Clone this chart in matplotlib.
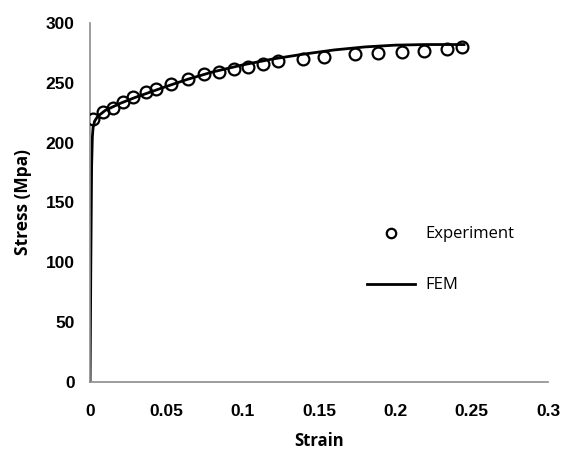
import matplotlib
matplotlib.use("Agg")
import matplotlib.pyplot as plt

# experiment points (strain, stress in MPa)
exp_strain = [0.0022, 0.0087, 0.0153, 0.0214, 0.0284, 0.0365, 0.0432, 0.0528,
              0.064, 0.0747, 0.0847, 0.0945, 0.1037, 0.1135, 0.1233, 0.1393,
              0.1534, 0.1735, 0.1884, 0.2045, 0.2189, 0.2336, 0.2434]
exp_stress = [219.7, 225.8, 229.2, 233.7, 238.3, 242.5, 244.8, 248.7,
              253.1, 257.1, 259.0, 261.2, 263.4, 265.7, 268.2, 269.8,
              271.8, 274.3, 274.6, 276.0, 276.8, 278.2, 279.6]

# FEM curve
fem_strain = [0, 0.0005, 0.001, 0.0015, 0.002, 0.003, 0.005, 0.01, 0.02, 0.03,
              0.05, 0.064, 0.08, 0.1, 0.12, 0.14, 0.16, 0.18, 0.2, 0.22, 0.245]
fem_stress = [0, 100, 180, 205, 213, 218, 222, 227, 233, 238,
              247, 253, 259, 265, 270, 274, 277.5, 280, 281.5, 282, 282]

xticks = [0, 0.05, 0.1, 0.15, 0.2, 0.25, 0.3]
yticks = [0, 50, 100, 150, 200, 250, 300]

fig = plt.figure(figsize=(5.63, 4.51), dpi=100)
ax = fig.add_axes([0.16, 0.153, 0.8134, 0.796])

ax.plot(exp_strain, exp_stress, 'o', ms=8.5, mfc='none', mec='black', mew=1.6,
        label='Experiment', zorder=3)
ax.plot(fem_strain, fem_stress, '-', color='black', lw=2, label='FEM', zorder=2)

ax.set_xlim(0, 0.3)
ax.set_ylim(0, 300)
ax.set_xticks(xticks)
ax.set_xticklabels(['0', '0.05', '0.1', '0.15', '0.2', '0.25', '0.3'])
ax.set_yticks(yticks)

for s in ['top', 'right']:
    ax.spines[s].set_visible(False)
for s in ['left', 'bottom']:
    ax.spines[s].set_color('#8c8c8c')
    ax.spines[s].set_linewidth(1.2)

ax.tick_params(axis='both', length=0, labelsize=12.5)
ax.tick_params(axis='x', pad=16)
ax.tick_params(axis='y', pad=11)
for lab in ax.get_xticklabels() + ax.get_yticklabels():
    lab.set_fontfamily('Liberation Sans')
    lab.set_fontweight('bold')

ax.set_xlabel('Strain', fontsize=12, fontweight='bold', family='Open Sans', labelpad=9)
ax.set_ylabel('Stress (Mpa)', fontsize=12.5, fontweight='bold', family='Open Sans', labelpad=10)

leg = ax.legend(loc='upper left', bbox_to_anchor=(0.652, 0.498),
                bbox_transform=fig.transFigure, frameon=False,
                handlelength=2.9, labelspacing=2.1, borderpad=0, borderaxespad=0,
                handletextpad=0.6, markerscale=0.8,
                prop={'family': 'Open Sans', 'size': 12})

fig.savefig('out.png', dpi=100)
